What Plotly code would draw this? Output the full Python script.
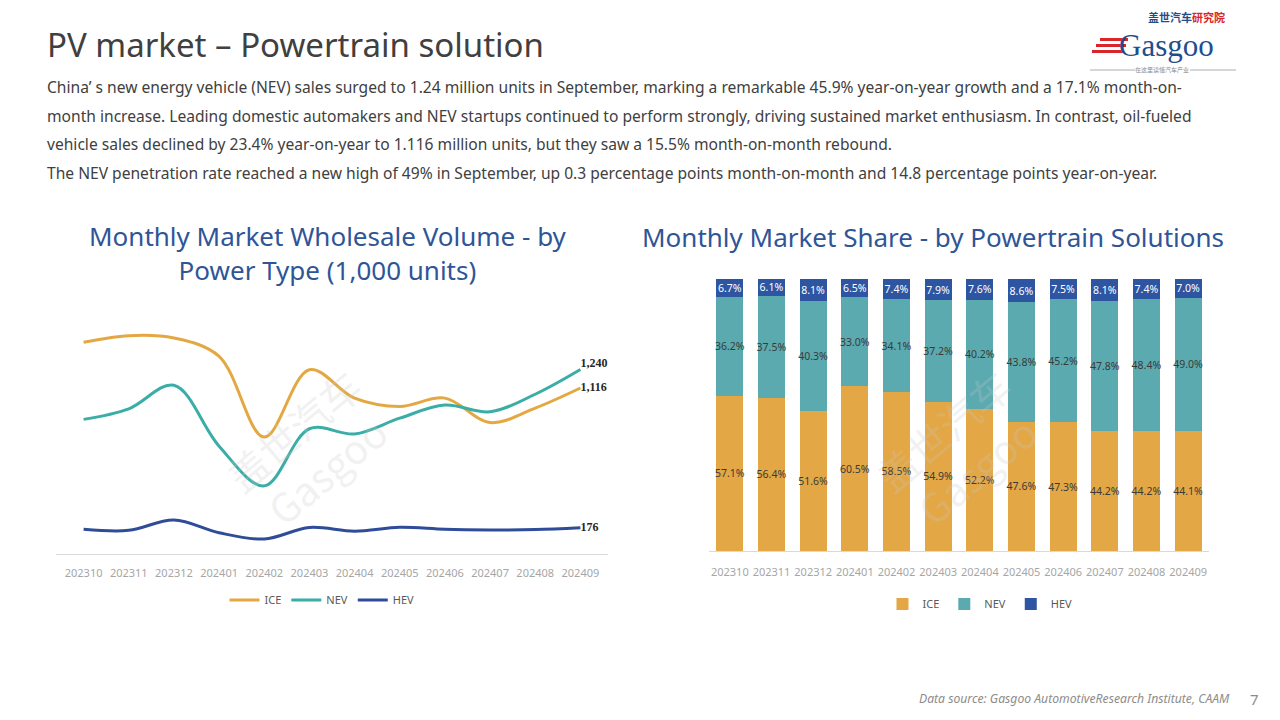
import plotly.graph_objects as go

months = ["202310", "202311", "202312", "202401", "202402", "202403",
          "202404", "202405", "202406", "202407", "202408", "202409"]

# Monthly wholesale volume (1,000 units)
ice_vol = [1423, 1468, 1452, 1329, 786, 1239, 1048, 992, 1048, 884, 981, 1116]
nev_vol = [905, 976, 1134, 725, 458, 842, 807, 913, 1001, 956, 1074, 1240]
hev_vol = [167, 159, 228, 143, 101, 178, 153, 179, 166, 162, 164, 176]

# Market share (%)
ice_share = [57.1, 56.4, 51.6, 60.5, 58.5, 54.9, 52.2, 47.6, 47.3, 44.2, 44.2, 44.1]
nev_share = [36.2, 37.5, 40.3, 33.0, 34.1, 37.2, 40.2, 43.8, 45.2, 47.8, 48.4, 49.0]
hev_share = [6.7, 6.1, 8.1, 6.5, 7.4, 7.9, 7.6, 8.6, 7.5, 8.1, 7.4, 7.0]

C_ICE_L, C_NEV_L, C_HEV_L = "#E4A843", "#3AADA6", "#2E4C98"
C_ICE_B, C_NEV_B, C_HEV_B = "#E3A745", "#5BAAAF", "#2D55A2"
TITLE_BLUE = "#2F5597"
FONT = "Noto Sans"
W, H = 1280, 720


def px(x):
    return x / W


def py(y):
    return 1 - y / H


fig = go.Figure()

# ---- Left: line chart ----
for name, vals, col, tpos in [("ICE", ice_vol, C_ICE_L, "middle right"),
                              ("NEV", nev_vol, C_NEV_L, "top right"),
                              ("HEV", hev_vol, C_HEV_L, "middle right")]:
    labels = [""] * (len(vals) - 1) + [f"<b>{vals[-1]:,}</b>"]
    fig.add_trace(go.Scatter(
        x=months, y=vals, name=name, mode="lines+text",
        text=labels, textposition=tpos, cliponaxis=False,
        textfont=dict(family="Liberation Serif", size=12, color="#262626"),
        line=dict(color=col, width=3, shape="spline", smoothing=1.0),
        xaxis="x", yaxis="y", legend="legend"))

# ---- Right: stacked bar chart ----
for name, vals, col, tcol in [("ICE", ice_share, C_ICE_B, "#3A3A3A"),
                              ("NEV", nev_share, C_NEV_B, "#3A3A3A"),
                              ("HEV", hev_share, C_HEV_B, "#FFFFFF")]:
    fig.add_trace(go.Bar(
        x=months, y=vals, name=name, marker=dict(color=col, line=dict(width=0)),
        texttemplate="%{y:.1f}%", textposition="inside", insidetextanchor="middle",
        textangle=0, textfont=dict(color=tcol, size=10.5, family=FONT), constraintext="none",
        xaxis="x2", yaxis="y2", legend="legend2"))

annotations = []

# Page title and paragraph
annotations.append(dict(x=px(45), y=py(44), xref="paper", yref="paper", xanchor="left", yanchor="middle",
                        text="PV market – Powertrain solution", showarrow=False,
                        font=dict(family=FONT, size=33, color="#404040")))
para = [
    "China’ s new energy vehicle (NEV) sales surged to 1.24 million units in September, marking a remarkable 45.9% year-on-year growth and a 17.1% month-on-",
    "month increase. Leading domestic automakers and NEV startups continued to perform strongly, driving sustained market enthusiasm. In contrast, oil-fueled",
    "vehicle sales declined by 23.4% year-on-year to 1.116 million units, but they saw a 15.5% month-on-month rebound.",
    "The NEV penetration rate reached a new high of 49% in September, up 0.3 percentage points month-on-month and 14.8 percentage points year-on-year.",
]
for i, line in enumerate(para):
    annotations.append(dict(x=px(45), y=py(87 + i * 28.7), xref="paper", yref="paper",
                            xanchor="left", yanchor="middle", text=line, showarrow=False,
                            font=dict(family=FONT, size=15.6, color="#404040")))

# Chart titles
annotations.append(dict(x=px(328), y=py(253), xref="paper", yref="paper", xanchor="center", yanchor="middle",
                        text="Monthly Market Wholesale Volume - by<br>Power Type (1,000 units)", showarrow=False,
                        font=dict(family=FONT, size=26, color=TITLE_BLUE)))
annotations.append(dict(x=px(933), y=py(237), xref="paper", yref="paper", xanchor="center", yanchor="middle",
                        text="Monthly Market Share - by Powertrain Solutions", showarrow=False,
                        font=dict(family=FONT, size=26, color=TITLE_BLUE)))

# Footer
annotations.append(dict(x=px(1232), y=py(698), xref="paper", yref="paper", xanchor="right", yanchor="middle",
                        text="<i>Data source: Gasgoo AutomotiveResearch Institute, CAAM</i>", showarrow=False,
                        font=dict(family=FONT, size=12.2, color="#8C8C8C")))
annotations.append(dict(x=px(1254), y=py(699), xref="paper", yref="paper", xanchor="center", yanchor="middle",
                        text="7", showarrow=False, font=dict(family=FONT, size=15, color="#8C8C8C")))

# Logo
annotations.append(dict(x=px(1166), y=py(45), xref="paper", yref="paper", xanchor="center", yanchor="middle",
                        text="Gasgoo", showarrow=False,
                        font=dict(family="Liberation Serif", size=31, color="#1F4E8C")))
annotations.append(dict(x=px(1186), y=py(17), xref="paper", yref="paper", xanchor="center", yanchor="middle",
                        text="<b>盖世汽车<span style='color:#D9262B'>研究院</span></b>", showarrow=False,
                        font=dict(family="Noto Sans CJK SC", size=11, color="#1F4E8C")))
annotations.append(dict(x=px(1162), y=py(70), xref="paper", yref="paper", xanchor="center", yanchor="middle",
                        text="在这里读懂汽车产业", showarrow=False,
                        font=dict(family="Noto Sans CJK SC", size=6, color="#888888")))

# Watermarks
for cx, cy in [(310, 450), (960, 450)]:
    annotations.append(dict(x=px(cx), y=py(cy), xref="paper", yref="paper", xanchor="center", yanchor="middle",
                            text="盖世汽车<br>Gasgoo", showarrow=False, textangle=-40,
                            font=dict(family="Noto Sans CJK SC", size=40, color="rgba(200,200,200,0.25)")))

shapes = []
# red stripes in logo
for i, (x0, x1) in enumerate([(1100, 1128), (1096, 1126), (1092, 1124)]):
    yy = 38 + i * 6
    shapes.append(dict(type="rect", xref="paper", yref="paper", x0=px(x0), x1=px(x1),
                       y0=py(yy + 3), y1=py(yy), fillcolor="#D9262B", line=dict(width=0)))
shapes.append(dict(type="line", xref="paper", yref="paper", x0=px(1090), x1=px(1135), y0=py(70), y1=py(70),
                   line=dict(color="#999999", width=0.8)))
shapes.append(dict(type="line", xref="paper", yref="paper", x0=px(1190), x1=px(1236), y0=py(70), y1=py(70),
                   line=dict(color="#999999", width=0.8)))

tickfont = dict(family=FONT, size=11, color="#A6A6A6")

fig.update_layout(
    width=W, height=H, autosize=False,
    margin=dict(l=0, r=0, t=0, b=0, autoexpand=False),
    paper_bgcolor="white", plot_bgcolor="white",
    font=dict(family=FONT),
    barmode="stack", bargap=0.35,
    xaxis=dict(domain=[px(56), px(608)], type="category", showgrid=False, zeroline=False,
               showline=True, linecolor="#D9D9D9", linewidth=1, ticks="", tickfont=tickfont,
               tickangle=0, automargin=False, ticklabelstandoff=9, anchor="y"),
    yaxis=dict(domain=[py(554), py(316)], range=[0, 1600], visible=False, anchor="x"),
    xaxis2=dict(domain=[px(709), px(1209)], type="category", showgrid=False, zeroline=False,
                showline=True, linecolor="#D9D9D9", linewidth=1, ticks="", tickfont=tickfont,
                tickangle=0, automargin=False, ticklabelstandoff=11, anchor="y2"),
    yaxis2=dict(domain=[py(551), py(279)], range=[0, 100], visible=False, anchor="x2"),
    legend=dict(orientation="h", x=px(322), y=py(600), xanchor="center", yanchor="middle",
                font=dict(family=FONT, size=11, color="#595959"), itemwidth=30,
                bgcolor="rgba(0,0,0,0)"),
    legend2=dict(orientation="h", x=px(980), y=py(604), xanchor="center", yanchor="middle",
                 font=dict(family=FONT, size=11, color="#595959"), traceorder="normal",
                 bgcolor="rgba(0,0,0,0)"),
    annotations=annotations,
    shapes=shapes,
)

fig.write_html("out.html", config={"displayModeBar": False},
               post_script="document.body.style.margin='0';")
